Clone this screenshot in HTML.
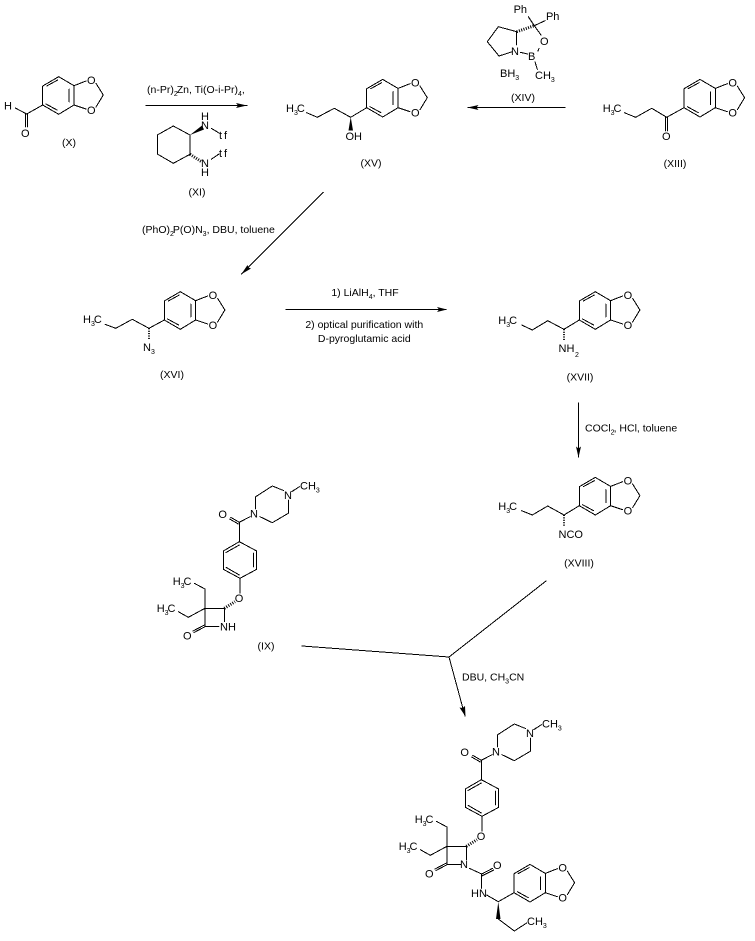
<!DOCTYPE html>
<html><head><meta charset="utf-8"><style>
html,body{margin:0;padding:0;background:#fff;width:755px;height:941px;overflow:hidden}
svg{display:block}
text{font-family:"Liberation Sans",Arial,sans-serif;font-size:10.5px;fill:#000}
.s{font-size:7px}
.m{text-anchor:middle}
.a{font-size:11px}
.b{fill:none;stroke:#000;stroke-width:1;stroke-linecap:round;stroke-linejoin:round;shape-rendering:crispEdges}
</style></head><body>
<svg width="755" height="941" viewBox="0 0 755 941" xmlns="http://www.w3.org/2000/svg">
<defs>
<g id="bd">
<path class="b" d="M0 0L0 -19L16 -28.3L31.3 -19.3L31.3 0L16 9.3Z M26.5 -16V-3 M4 -19L15 -25 M3.3 -1L14.3 5 M31.3 -19.3L43.3 -24 M31.3 0L43.3 4 M53.3 -21.7L60.6 -10L53.3 2"/>
<text class="m a" x="48.6" y="-21">O</text><text class="m a" x="48.6" y="9">O</text>
</g>
<g id="pz">
<path class="b" d="M291.7 491.7L299.3 486.7 M283.5 490.5L272.3 486L255.7 496.7V509 M288.3 500V513.3L272.3 522.7L260 516.7 M239.3 522.3L250 516.7 M239.3 522.3L230.7 517.3 M238.3 524L229.7 519 M239.3 522.3V541.7L256.7 551V569.3L240 578.3L223.3 569.3V551L239.3 541.7 M253.3 553V567 M226 567.3L239.3 575 M226 552.5L239.3 545 M240 578.3V593"/>
<path class="b" d="M205 608.3H224.3 M224.3 608.3V621.7 M205 608.3V626.7 M205 626.7H219 M205 608.3V589L194.3 583.3 M205 608.3L188.3 617.3L178.3 611.7 M205 626.7L194 632.5 M205 624.7L193 631"/>
<path d="M224.3 608.3L235 601.7" fill="none" stroke="#000" stroke-width="3" stroke-dasharray="1 1.4"/>
<text class="a" x="284" y="499">N</text><text class="a" x="250" y="517.5">N</text><text class="m a" x="222.7" y="518">O</text>
<text class="a" x="300" y="489.5">CH<tspan class="s" dy="3">3</tspan></text>
<text class="m a" x="239" y="602">O</text>
<text class="a" x="172.7" y="585">H<tspan class="s" dy="3">3</tspan><tspan dy="-3" dx="-1">C</tspan></text>
<text class="a" x="156.7" y="612">H<tspan class="s" dy="3">3</tspan><tspan dy="-3" dx="-1">C</tspan></text>
<text class="m a" x="187.3" y="639.5">O</text>
</g>
</defs>

<!-- X -->
<use href="#bd" x="42.7" y="105"/>
<path class="b" d="M42.7 105L26.7 114L15.3 108 M25.7 114V127 M27.7 114V127"/>
<text class="a" x="4" y="109.5">H</text><text class="m a" x="25.3" y="137">O</text>
<text class="m" x="69" y="146">(X)</text>

<!-- arrow 1 -->
<path class="b" d="M146 105.5H247"/><path d="M247 105.5L236 103L238 105.5L236 108Z"/>
<text x="147" y="93">(n-Pr)<tspan class="s" dy="3">2</tspan><tspan dy="-3" dx="-1">Zn, Ti(O-i-Pr)</tspan><tspan class="s" dy="3">4</tspan><tspan dy="-3">,</tspan></text>

<!-- XI -->
<path class="b" d="M190 135L173.3 126L157.3 135V154L173.3 163.3L190 154.3Z M211.3 128.3L219 133 M211.3 159.3L219 154"/>
<path d="M190 135L202 125.5L204 129.5Z"/>
<path d="M190 154.3L202 162" fill="none" stroke="#000" stroke-width="3" stroke-dasharray="1 1.4"/>
<text class="m a" x="205" y="120">H</text><text class="m a" x="205" y="129">N</text>
<text class="m a" x="205" y="167">N</text><text class="m a" x="205" y="176">H</text>
<text class="a" x="219" y="139" letter-spacing="2">tf</text><text class="a" x="219" y="157" letter-spacing="2">tf</text>
<text class="m" x="197" y="195.5">(XI)</text>

<!-- XV -->
<use href="#bd" x="366.7" y="107.7"/>
<path class="b" d="M306.7 112.7L317.3 117.3L334.3 108.3L350.7 117.3L366.7 107.7"/>
<path d="M350.7 117L348.5 130.5H353Z"/>
<text class="a" x="286" y="112">H<tspan class="s" dy="3">3</tspan><tspan dy="-3" dx="-1">C</tspan></text>
<text class="a" x="345.5" y="140">OH</text>
<text class="m" x="371" y="166.5">(XV)</text>

<!-- XIV -->
<path class="b" d="M516.7 31.7L498.3 26.7L487.3 41.7L499 56L512.3 51.7 M516.7 31.7V45 M534.3 25.7L528.3 16.7 M534.3 25.7L545 20.7 M534.3 25.7L541 35 M539 48.3L538 51 M520.3 52.3L527.7 54 M535 61.7L537.3 69.3"/>
<path d="M516.7 31.7L534.3 25.7" fill="none" stroke="#000" stroke-width="3" stroke-dasharray="1 1.4"/>
<text class="m a" x="520.3" y="13">Ph</text><text class="m a" x="552.7" y="20">Ph</text>
<text class="m a" x="544.3" y="45">O</text><text class="m a" x="515" y="55">N</text><text class="m a" x="531.7" y="60">B</text>
<text class="a" x="500" y="77">BH<tspan class="s" dy="3">3</tspan></text>
<text class="a" x="535" y="79">CH<tspan class="s" dy="3">3</tspan></text>
<text class="m" x="523" y="101">(XIV)</text>

<path class="b" d="M565 107.5H468"/><path d="M467.5 107.5L478.5 105L476.5 107.5L478.5 110Z"/>

<!-- XIII -->
<use href="#bd" x="684" y="107.7"/>
<path class="b" d="M624.3 112.7L635.7 117.3L651.7 108.3L666.7 117.3L684 107.7 M665.7 117.3V131 M667.7 117.3V131"/>
<text class="a" x="602.7" y="112">H<tspan class="s" dy="3">3</tspan><tspan dy="-3" dx="-1">C</tspan></text>
<text class="m a" x="666.3" y="140">O</text>
<text class="m" x="675" y="167">(XIII)</text>

<!-- diagonal arrow -->
<path class="b" d="M323.3 192.3L241.5 274"/><path d="M241.3 274.3L247.5 265L248.5 267.5L251 268.5Z"/>
<text x="142" y="233">(PhO)<tspan class="s" dy="3">2</tspan><tspan dy="-3" dx="-1">P(O)N</tspan><tspan class="s" dy="3">3</tspan><tspan dy="-3">, DBU, toluene</tspan></text>

<!-- XVI -->
<use href="#bd" x="164.3" y="320"/>
<path class="b" d="M105 324.3L115.7 328.3L132.3 319.3L149 328.3L164.3 320"/>
<path d="M149 328.3V340" fill="none" stroke="#000" stroke-width="2" stroke-dasharray="1 1.4"/>
<text class="a" x="83" y="323">H<tspan class="s" dy="3">3</tspan><tspan dy="-3" dx="-1">C</tspan></text>
<text class="a" x="143" y="351">N<tspan class="s" dy="3">3</tspan></text>
<text class="m" x="172" y="378">(XVI)</text>

<!-- arrow 3 -->
<path class="b" d="M286 309.5H446"/><path d="M447 309.5L437 307L439 309.5L437 312Z"/>
<text class="m" x="365" y="296">1) LiAlH<tspan class="s" dy="3">4</tspan><tspan dy="-3">, THF</tspan></text>
<text class="m" x="364.3" y="328">2) optical purification with</text>
<text class="m" x="364.3" y="342">D-pyroglutamic acid</text>

<!-- XVII -->
<use href="#bd" x="579.3" y="320"/>
<path class="b" d="M521.7 325L532.3 330L547.7 320.7L564 329.3L579.3 320"/>
<path d="M564 329.3V341" fill="none" stroke="#000" stroke-width="2" stroke-dasharray="1 1.4"/>
<text class="a" x="498.3" y="324">H<tspan class="s" dy="3">3</tspan><tspan dy="-3" dx="-1">C</tspan></text>
<text class="a" x="558.5" y="352">NH</text><text class="s" x="575" y="357">2</text>
<text class="m" x="580" y="380.5">(XVII)</text>

<!-- arrow 4 -->
<path class="b" d="M578.5 402.7V457"/><path d="M578.5 457.5L576 446.5L578.5 448.5L581 446.5Z"/>
<text x="585" y="431.5">COCl<tspan class="s" dy="3">2</tspan><tspan dy="-3" dx="-1">, HCl, toluene</tspan></text>

<!-- XVIII -->
<use href="#bd" x="579.3" y="505.7"/>
<path class="b" d="M521.7 510.7L532.3 515L547.7 506L564 515L579.3 505.7"/>
<path d="M564 515V527" fill="none" stroke="#000" stroke-width="2" stroke-dasharray="1 1.4"/>
<text class="a" x="498.3" y="510">H<tspan class="s" dy="3">3</tspan><tspan dy="-3" dx="-1">C</tspan></text>
<text class="a" x="558.5" y="538">NCO</text>
<text class="m" x="579" y="566.5">(XVIII)</text>

<!-- IX -->
<use href="#pz"/>
<text class="a" x="220" y="630.5">NH</text>
<text class="m" x="266" y="649.5">(IX)</text>

<!-- merge arrow -->
<path class="b" d="M302 646L449 657L546 581 M449 657L465 716"/><path d="M465.5 716.5L459.5 707.5L462.5 708L465 706Z"/>
<text x="462" y="680.5">DBU, CH<tspan class="s" dy="3">3</tspan><tspan dy="-3">CN</tspan></text>

<!-- product -->
<use href="#pz" x="242" y="238"/>
<use href="#bd" x="514" y="892.7"/>
<text class="m a" x="464" y="868">N</text>
<path class="b" d="M469.3 868.3L481.7 874L492.7 868.3 M481.7 876L493.7 870 M481.7 874V888.3 M486.7 895L498.3 901.7L514 892.7 M498.3 919L514.3 931L526.7 923"/>
<path d="M498.3 901.7L496 919H500.5Z"/>
<text class="m a" x="497.3" y="869">O</text>
<text class="a" x="471" y="897">HN</text>
<text class="a" x="527" y="925">CH<tspan class="s" dy="3">3</tspan></text>
</svg>
</body></html>
